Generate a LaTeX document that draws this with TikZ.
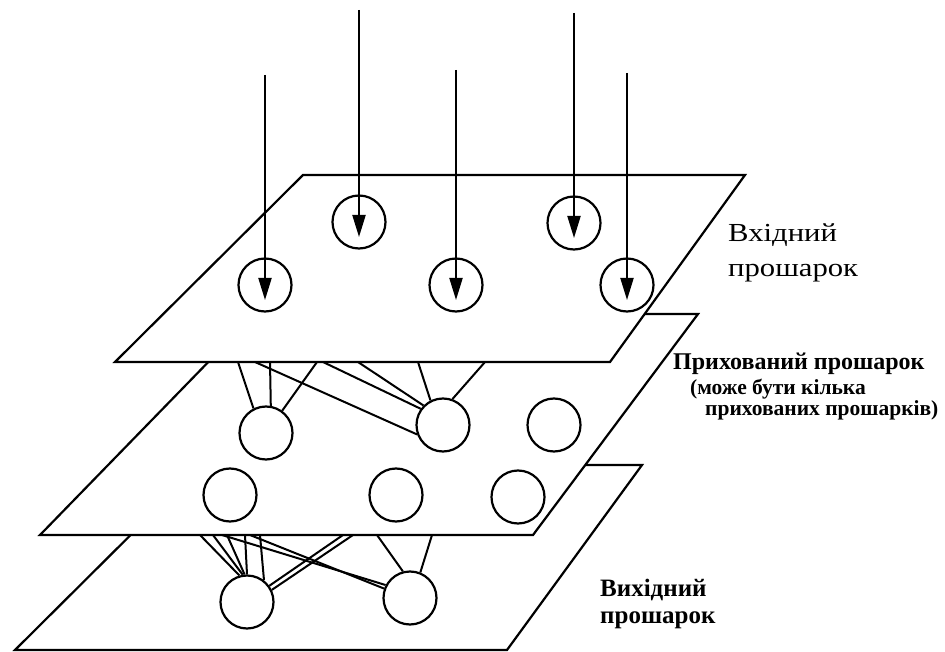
\documentclass[tikz,border=0pt]{standalone}
\usepackage{fontspec}
\setmainfont{Liberation Serif}
\newfontfamily\widefont{Liberation Serif}[FakeStretch=1.18]
\usetikzlibrary{arrows.meta}

\begin{document}
\begin{tikzpicture}[
                x=1pt, y=-1pt,
                plane/.style={draw=black, fill=white, line width=2.2pt},
                neuron/.style={draw=black, circle, fill=white, minimum size=53pt, inner sep=0pt, line width=2.2pt},
                link/.style={draw=black, line width=2pt},
                signal/.style={draw=black, line width=2pt, -{Triangle[length=22pt, width=13pt]}},
                title/.style={anchor=base west, inner sep=0pt, font=\widefont\fontsize{26}{26}\selectfont},
                note/.style={anchor=base west, inner sep=0pt, font=\bfseries\fontsize{24}{24}\selectfont},
                subnote/.style={note, font=\bfseries\fontsize{21.5}{21.5}\selectfont},
                outnote/.style={note, font=\bfseries\fontsize{25}{25}\selectfont}
            ]
            \useasboundingbox (0,0) rectangle (945,652);

            % layers, from the bottom up
            \draw[plane] (201,465) -- (642,465) -- (507,650) -- (15,650) -- cycle;
            \draw[plane] (255,314) -- (698,314) -- (533,535) -- (40,535) -- cycle;
            \draw[plane] (303,175) -- (745,175) -- (610,362) -- (115,362) -- cycle;

            % neurons
            \node[neuron] (in1) at (265,285) {};
            \node[neuron] (in2) at (359,222) {};
            \node[neuron] (in3) at (456,285) {};
            \node[neuron] (in4) at (574,223) {};
            \node[neuron] (in5) at (627,285) {};

            \node[neuron] (hid1) at (266,433) {};
            \node[neuron] (hid2) at (443,425) {};
            \node[neuron] (hid3) at (554,425) {};
            \node[neuron] (hid4) at (230,495) {};
            \node[neuron] (hid5) at (396,495) {};
            \node[neuron] (hid6) at (518,497) {};

            \node[neuron] (out1) at (247,602) {};
            \node[neuron] (out2) at (410,598) {};

            % links leave the edge of the layer above
            \foreach \x/\n/\a in {238/hid1/117, 270/hid1/80, 317/hid1/54, 255/hid2/200,
                                  323/hid2/144, 358/hid2/135, 418/hid2/117, 485/hid2/70} {
                \coordinate (up\x) at (\x,362);
                \draw[link] (up\x) -- (\n.\a);
            }
            \foreach \x/\n/\a in {200/out1/106, 213/out1/99, 227/out1/95, 245/out1/90, 260/out1/52,
                                  222/out2/152, 250/out2/160, 343/out1/36, 353/out1/26,
                                  377/out2/105, 432/out2/68} {
                \coordinate (mid\x) at (\x,535);
                \draw[link] (mid\x) -- (\n.\a);
            }

            % incoming signals
            \foreach \n/\x/\y in {1/265/75, 2/359/10, 3/456/70, 4/574/13, 5/627/73} {
                \coordinate (src\n) at (\x,\y);
                \draw[signal] (src\n) -- ([yshift=-15pt]in\n.center);
            }

            \node[title] (inlbl1) at (728,242) {Вхідний};
            \node[title] (inlbl2) at (728,277) {прошарок};
            \node[note] (hidlbl1) at (673,369) {Прихований прошарок};
            \node[subnote] (hidlbl2) at (690,394) {(може бути кілька};
            \node[subnote] (hidlbl3) at (705,415) {прихованих прошарків)};
            \node[outnote] (outlbl1) at (600,596) {Вихідний};
            \node[outnote] (outlbl2) at (600,623) {прошарок};
        \end{tikzpicture}
\end{document}
